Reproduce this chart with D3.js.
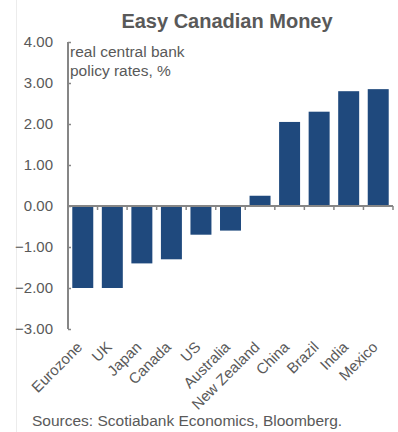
<!DOCTYPE html>
<html>
<head>
<meta charset="utf-8">
<script src="https://cdn.jsdelivr.net/npm/d3@7"></script>
<style>
  html, body { margin: 0; padding: 0; background: #fff; }
  svg { display: block; font-family: "Liberation Sans", Arial, sans-serif; }
</style>
</head>
<body>
<svg id="chart" width="398" height="432"></svg>
<script>
// Real central bank policy rates, %
const countries = ["Eurozone", "UK", "Japan", "Canada", "US", "Australia",
                   "New Zealand", "China", "Brazil", "India", "Mexico"];
const rates = [-2.0, -2.0, -1.4, -1.3, -0.7, -0.6, 0.25, 2.05, 2.3, 2.8, 2.85];
const yTicks = [-3, -2, -1, 0, 1, 2, 3, 4];

const svg = d3.select("#chart");
const textColor = "#595959";
const axisColor = "#868686";
const barColor = "#1F497D";

// faint frame line on the left edge
svg.append("line")
  .attr("x1", 16.5).attr("x2", 16.5).attr("y1", 0).attr("y2", 432)
  .attr("stroke", "#ececec").attr("stroke-width", 1);

const plotLeft = 68, plotRight = 393, plotTop = 42, plotBottom = 329;

const x = d3.scaleBand()
  .domain(countries)
  .range([plotLeft, plotRight])
  .paddingInner(0.29)
  .paddingOuter(0.145);

const y = d3.scaleLinear().domain([-3, 4]).range([plotBottom, plotTop]);

// title
svg.append("text")
  .attr("x", 227).attr("y", 28)
  .attr("text-anchor", "middle")
  .attr("font-size", 20).attr("font-weight", "bold")
  .attr("fill", textColor)
  .text("Easy Canadian Money");

// bars
svg.append("g").selectAll("rect")
  .data(countries.map((c, i) => ({ c, v: rates[i] })))
  .join("rect")
  .attr("x", d => x(d.c))
  .attr("width", x.bandwidth())
  .attr("y", d => y(Math.max(0, d.v)))
  .attr("height", d => Math.abs(y(d.v) - y(0)))
  .attr("fill", barColor);

// y axis
const yAxis = svg.append("g")
  .attr("transform", `translate(${plotLeft},0)`)
  .call(d3.axisRight(y).tickValues(yTicks).tickSize(3).tickFormat(""));
yAxis.select(".domain").remove();
yAxis.selectAll(".tick line").attr("stroke", axisColor).attr("stroke-width", 1.5);
yAxis.append("line")
  .attr("x1", 0).attr("x2", 0).attr("y1", y(4)).attr("y2", y(-3))
  .attr("stroke", axisColor).attr("stroke-width", 2);

svg.append("g").selectAll("text")
  .data(yTicks)
  .join("text")
  .attr("x", 53).attr("y", d => y(d))
  .attr("dy", "0.35em")
  .attr("text-anchor", "end")
  .attr("font-size", 15)
  .attr("fill", textColor)
  .text(d => d3.format(".2f")(d));

// x axis along zero, with ticks at category boundaries
const step = x.step();
const bounds = d3.range(1, countries.length + 1).map(i => plotLeft + i * step);
const xAxis = svg.append("g");
xAxis.append("line")
  .attr("x1", plotLeft).attr("x2", plotRight).attr("y1", y(0)).attr("y2", y(0))
  .attr("stroke", axisColor).attr("stroke-width", 2);
xAxis.selectAll("line.tk")
  .data(bounds)
  .join("line")
  .attr("class", "tk")
  .attr("x1", d => d).attr("x2", d => d)
  .attr("y1", y(0)).attr("y2", y(0) + 4)
  .attr("stroke", axisColor).attr("stroke-width", 1.5);

// category labels, rotated
svg.append("g").selectAll("text")
  .data(countries)
  .join("text")
  .attr("transform", d => `translate(${x(d) + x.bandwidth() / 2 + 0.5},${348}) rotate(-45)`)
  .attr("text-anchor", "end")
  .attr("font-size", 15)
  .attr("fill", textColor)
  .text(d => d);

// series note
const note = svg.append("text")
  .attr("x", 70).attr("y", 57)
  .attr("font-size", 15.5)
  .attr("fill", textColor);
note.append("tspan").attr("x", 70).text("real central bank");
note.append("tspan").attr("x", 70).attr("dy", 19).text("policy rates, %");

// source line
svg.append("text")
  .attr("x", 32).attr("y", 426)
  .attr("font-size", 15.5)
  .attr("fill", textColor)
  .text("Sources: Scotiabank Economics, Bloomberg.");
</script>
</body>
</html>
